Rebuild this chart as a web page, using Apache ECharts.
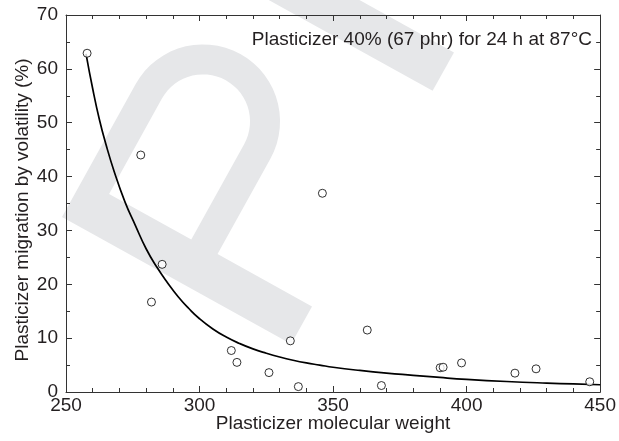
<!DOCTYPE html>
<html>
<head>
<meta charset="utf-8">
<script src="https://cdn.jsdelivr.net/npm/echarts@6/dist/echarts.min.js"></script>
<style>
  html, body { margin: 0; padding: 0; background: #fff; }
  #chart { width: 619px; height: 441px; }
</style>
</head>
<body>
<div id="chart"></div>
<script>
// measured points (molecular weight vs migration %)
var pointMw = [257.9, 278.0, 282.0, 286.0, 311.9, 314.0, 326.0, 334.0, 337.0, 346.0, 362.8, 368.1, 390.1, 391.2, 398.1, 418.1, 426.0, 446.1]
var pointMig = [62.9, 44.0, 16.7, 23.7, 7.7, 5.5, 3.6, 9.5, 1.0, 36.9, 11.5, 1.2, 4.5, 4.6, 5.4, 3.5, 4.3, 1.9]

// fitted curve
var curveMw = [257.5, 260, 262.5, 265, 268, 272, 276, 280, 284, 288, 292, 296, 300, 305, 310, 315, 320, 325, 330, 335, 340, 345, 350, 360, 370, 380, 390, 400, 415, 430, 440, 450]
var curveMig = [62.8, 56.3, 50.6, 45.9, 41.0, 35.4, 30.9, 26.6, 23.2, 20.3, 17.7, 15.5, 13.6, 11.7, 10.2, 9.0, 8.0, 7.2, 6.5, 5.9, 5.4, 5.0, 4.6, 4.0, 3.5, 3.1, 2.7, 2.35, 1.95, 1.65, 1.5, 1.35]

var xTitle = 'Plasticizer molecular weight'
var yTitle = 'Plasticizer migration by volatility (%)'
var note = 'Plasticizer 40% (67 phr) for 24 h at 87\u00b0C'

var fontFamily = '"Liberation Sans", Arial, sans-serif'
var textColor = '#231f20'
var lineColor = '#333'
var markColor = '#e6e7e9'

var scatterData = pointMw.map(function (x, i) { return [x, pointMig[i]] })
var curveData = curveMw.map(function (x, i) { return [x, curveMig[i]] })

// outline of the watermark letter, in the letter's own upright frame
function arcPts (cx, cy, r, a0, a1, n) {
  var pts = []
  for (var i = 0; i <= n; i++) {
    var a = a0 + (a1 - a0) * i / n
    pts.push([cx + r * Math.cos(a), cy + r * Math.sin(a)])
  }
  return pts
}
var letterP = [[0, 0], [152, 0]]
  .concat(arcPts(152, 77, 77, -Math.PI / 2, Math.PI / 2, 30))
  .concat([[43, 154], [43, 262], [0, 262], [0, 30], [43, 30], [43, 124], [152, 124]])
  .concat(arcPts(152, 77, 47, Math.PI / 2, -Math.PI / 2, 30))
  .concat([[43, 30], [0, 30]])

function frameAxis (pos, min, max, interval, split, showLabel, margin) {
  return {
    type: 'value',
    position: pos,
    min: min,
    max: max,
    interval: interval,
    splitLine: { show: false },
    axisLine: { show: true, onZero: false, lineStyle: { color: lineColor, width: 1 } },
    axisTick: { show: true, inside: true, length: 6, lineStyle: { color: lineColor } },
    minorTick: { show: true, splitNumber: split, length: 4, lineStyle: { color: lineColor } },
    axisLabel: {
      show: showLabel,
      margin: margin,
      fontSize: 19,
      fontFamily: fontFamily,
      color: textColor
    }
  }
}

var xBottom = frameAxis('bottom', 250, 450, 50, 5, true, 4)
xBottom.name = xTitle
xBottom.nameLocation = 'middle'
xBottom.nameGap = 22
xBottom.nameMoveOverlap = false
xBottom.nameTextStyle = { fontSize: 19, fontFamily: fontFamily, color: textColor }

var yLeft = frameAxis('left', 0, 70, 10, 2, true, 8)
yLeft.name = yTitle
yLeft.nameLocation = 'middle'
yLeft.nameGap = 34
yLeft.nameMoveOverlap = false
yLeft.nameTextStyle = { fontSize: 19, fontFamily: fontFamily, color: textColor, padding: [0, 13, 0, 0] }

var chart = echarts.init(document.getElementById('chart'), null, { renderer: 'canvas' })
chart.setOption({
  backgroundColor: '#fff',
  animation: false,
  grid: { left: 66, right: 16, top: 15, bottom: 49, containLabel: false },
  xAxis: [xBottom, frameAxis('top', 250, 450, 50, 5, false, 5)],
  yAxis: [yLeft, frameAxis('right', 0, 70, 10, 2, false, 8)],
  graphic: [
    {
      // grey "P" watermark behind the plot
      type: 'group',
      x: 62,
      y: 217,
      rotation: 61 * Math.PI / 180,
      z: -10,
      silent: true,
      children: [
        {
          type: 'polygon',
          z: -10,
          shape: { points: letterP },
          style: { fill: markColor }
        },
        {
          type: 'rect',
          z: -10,
          shape: { x: 290, y: -80, width: 44, height: 343 },
          style: { fill: markColor }
        }
      ]
    },
    {
      type: 'text',
      right: 27,
      top: 30,
      z: 10,
      style: {
        text: note,
        fontSize: 19,
        fontFamily: fontFamily,
        fill: textColor
      }
    }
  ],
  series: [
    {
      name: 'fit',
      type: 'line',
      data: curveData,
      smooth: true,
      showSymbol: false,
      symbol: 'none',
      lineStyle: { color: '#000', width: 1.7 },
      z: 2
    },
    {
      name: 'data',
      type: 'scatter',
      data: scatterData,
      symbol: 'circle',
      symbolSize: 8,
      itemStyle: { color: '#fff', borderColor: '#000', borderWidth: 1 },
      z: 3
    }
  ]
})
</script>
</body>
</html>
